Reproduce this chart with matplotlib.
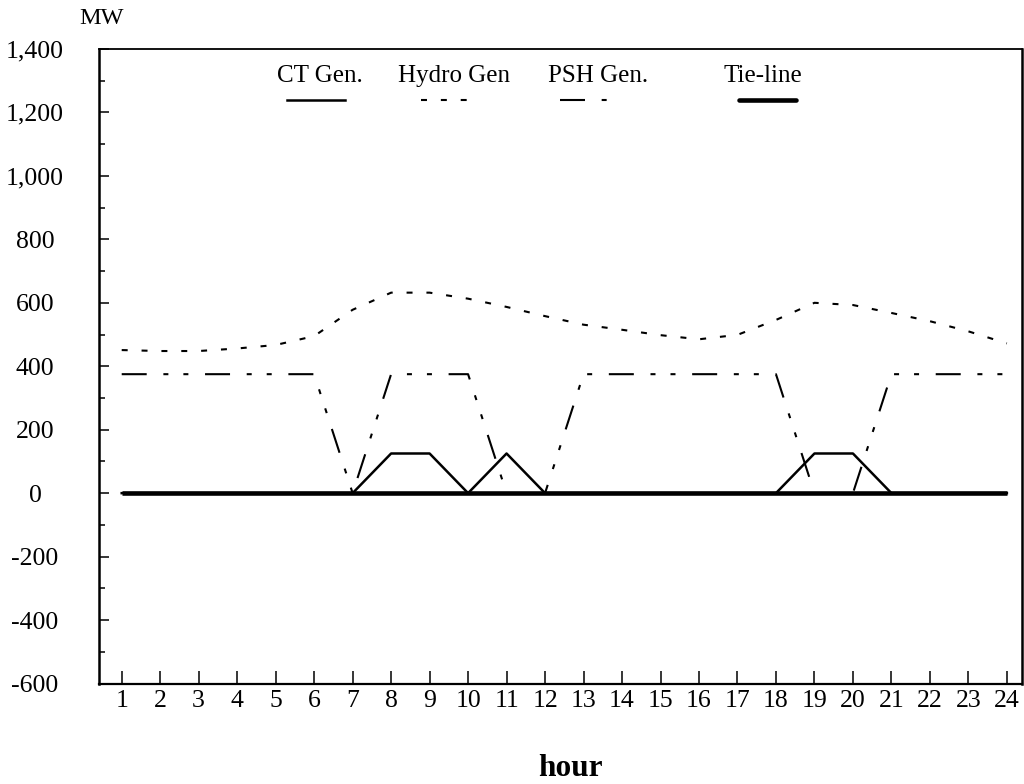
import matplotlib
matplotlib.use("Agg")
import matplotlib.pyplot as plt
from matplotlib.lines import Line2D
from matplotlib.ticker import MultipleLocator, FuncFormatter

# ---------------- data ----------------
hours = list(range(1, 25))
hydro_gen = [451, 448, 448, 456, 467, 495, 578, 632, 632, 613, 587, 558,
             531, 515, 498, 485, 499, 546, 600, 593, 568, 542, 510, 472]
psh_gen = [375, 375, 375, 375, 375, 375, 0, 375, 375, 375, 0, 0,
           375, 375, 375, 375, 375, 375, 0, 0, 375, 375, 375, 375]
ct_gen = [0, 0, 0, 0, 0, 0, 0, 125, 125, 0, 125, 0,
          0, 0, 0, 0, 0, 0, 125, 125, 0, 0, 0, 0]
tie_line = [0] * 24
y_ticks = list(range(-600, 1401, 200))
legend_labels = ["CT Gen.", "Hydro Gen", "PSH Gen.", "Tie-line"]

# ---------------- style ----------------
plt.rcParams["font.family"] = ["Liberation Serif", "DejaVu Serif"]
plt.rcParams["lines.scale_dashes"] = False

W, H = 1024, 784
fig = plt.figure(figsize=(W / 100, H / 100), dpi=100)
ax_l, ax_r, ax_t, ax_b = 99, 1021.5, 49, 683.5
ax = fig.add_axes([ax_l / W, 1 - ax_b / H, (ax_r - ax_l) / W, (ax_b - ax_t) / H])

hydro_dash = (0, (4.3, 10.0))
psh_dash = (0, (18, 12, 3.6, 10.8, 3.6, 12))

ax.plot(hours, tie_line, color="black", lw=3.3, solid_capstyle="butt", zorder=3)
ax.plot(hours, ct_gen, color="black", lw=1.8, zorder=4)
ax.plot(hours, hydro_gen, color="black", lw=1.5, linestyle=hydro_dash, zorder=2)
ax.plot(hours, psh_gen, color="black", lw=1.5, linestyle=psh_dash, zorder=2)

ax.set_xlim(0.41, 24.38)
ax.set_ylim(-600, 1400)
ax.set_xticks(hours)
ax.set_yticks(y_ticks)
ax.yaxis.set_minor_locator(MultipleLocator(100))
ax.yaxis.set_major_formatter(FuncFormatter(lambda v, p: f"{int(v):,}"))

ax.tick_params(axis="x", direction="in", length=9.4, width=1.1, pad=5,
               labelsize=18.5, colors="black")
ax.tick_params(axis="y", which="major", direction="in", length=7.5, width=1.1,
               pad=46, labelsize=18.5)
ax.tick_params(axis="y", which="minor", direction="in", length=4.3, width=1.1)
for lbl in ax.get_yticklabels():
    lbl.set_horizontalalignment("center")

ax.spines["left"].set_linewidth(1.8)
ax.spines["bottom"].set_linewidth(1.6)
ax.spines["top"].set_linewidth(1.3)
ax.spines["right"].set_linewidth(1.8)

def fx(px):
    return px / W

def fy(py):
    return 1 - py / H

fig.text(fx(102), fy(18), "MW", ha="center", va="center", fontsize=17.5)
fig.text(fx(570), fy(768), "hour", ha="center", va="center", fontsize=22.5,
         fontweight="bold")

# custom legend
leg_text_x = [320, 454, 598, 763]
leg_line_x = [(287, 345), (421, 469), (560, 609), (739, 796)]
leg_styles = [dict(lw=1.8, linestyle="-"),
              dict(lw=1.5, linestyle=hydro_dash),
              dict(lw=1.5, linestyle=psh_dash),
              dict(lw=3.3, linestyle="-", solid_capstyle="round")]
for lab, tx, (x0, x1), st in zip(legend_labels, leg_text_x, leg_line_x, leg_styles):
    fig.text(fx(tx), fy(76), lab, ha="center", va="center", fontsize=18)
    fig.add_artist(Line2D([fx(x0), fx(x1)], [fy(100), fy(100)], color="black",
                          transform=fig.transFigure, **st))

fig.savefig("out.png", dpi=100, facecolor="white")
